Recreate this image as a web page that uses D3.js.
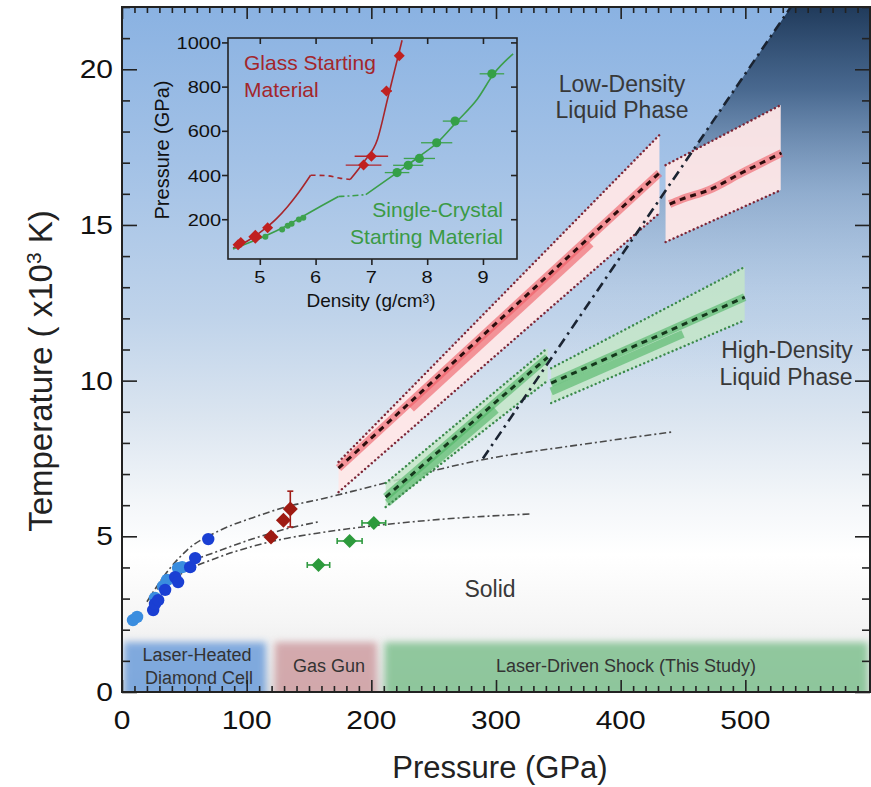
<!DOCTYPE html>
<html lang="en">
  <head>
    <meta charset="utf-8">
    <title>SiO2 shock melting</title>
    <style>
      body { margin: 0; background: #fff; }
      text { font-family: "Liberation Sans", Arial, Helvetica, sans-serif; }
    </style>
  </head>
  <body>
    <svg width="871" height="787"></svg>
    <script src="https://cdn.jsdelivr.net/npm/d3@7"></script>
    <script>
      // ---- data (pressure in GPa, temperature in 10^3 K) ----
      const pressureTicks = [0, 100, 200, 300, 400, 500];
      const tempTicks = [0, 5, 10, 15, 20];

      // laser-heated diamond cell
      const dacDark = [[25, 2.63], [26.5, 2.83], [29, 2.95], [34.6, 3.28], [42.6, 3.69], [45, 3.53], [54.7, 4.01], [58.7, 4.30], [69.2, 4.91]];
      const dacLight = [[8.8, 2.31], [12.1, 2.41], [26.5, 3.02], [33, 3.40], [36.2, 3.60], [45, 3.98], [48.3, 4.01]];
      // gas gun [P, T, Terr low, Terr high]
      const gasGun = [[119.5, 4.98, 0, 0], [129.5, 5.52, 0, 0], [135, 5.88, 5.3, 6.45]];
      // shocked solid points [P, T, P err]
      const shockSolid = [[157.6, 4.08, 9], [182.6, 4.85, 10], [202, 5.43, 9.5]];

      // melting curves (dash-dot)
      const meltUpper = [[20, 2.9], [39, 4.0], [52, 4.55], [79, 5.2], [105, 5.6], [132, 5.95], [160, 6.2], [200, 6.6], [288, 7.45], [376, 7.99], [441, 8.35]];
      const meltMiddle = [[28, 3.3], [40, 3.75], [52, 4.1], [79, 4.55], [105, 4.92], [130, 5.22], [157, 5.46]];
      const meltLower = [[40, 3.6], [52, 3.9], [79, 4.35], [105, 4.68], [130, 4.92], [160, 5.12], [248, 5.52], [328, 5.72]];
      const phaseBoundary = [[289.5, 7.5], [536.5, 22]];

      // liquid bands [P, T low edge, T high edge]
      const ldlBandA = [[173.7, 6.42, 7.39], [431.1, 15.38, 17.89]];
      const ldlBandB = [[436, 14.45, 16.92], [528.4, 16.12, 18.85]];
      const hdlBandA = [[211.5, 5.94, 6.71], [341.4, 10.0, 11.05]];
      const hdlBandB = [[344.2, 9.28, 10.40], [499.5, 11.94, 13.65]];
      // fits through the bands
      const ldlFitA = [[173.7, 7.19], [431.1, 16.67]];
      const ldlFitA2 = [[232, 9.1], [376, 14.4]];
      const ldlFitB = [[439.3, 15.67], [449, 15.83], [470.6, 16.12], [497, 16.67], [529, 17.31]];
      const hdlFitA = [[211.5, 6.26], [341.4, 10.75]];
      const hdlFitA2 = [[213, 6.08], [300, 9.07]];
      const hdlFitB = [[344.2, 9.92], [499.5, 12.68]];
      const hdlFitB2 = [[344.2, 9.65], [450, 11.5]];

      // technique ranges [P start, P end]
      const methods = [
        { name: ['Laser-Heated', 'Diamond Cell'], range: [0, 117], colour: '#6d9edb' },
        { name: ['Gas Gun'], range: [121, 206], colour: '#cf9ea2' },
        { name: ['Laser-Driven Shock (This Study)'], range: [209, 600], colour: '#80c190' }
      ];

      // inset: density (g/cm3) vs pressure (GPa)
      const densityTicks = [5, 6, 7, 8, 9];
      const insetPTicks = [200, 400, 600, 800, 1000];
      const glassCurve1 = [[4.52, 70], [4.8, 105], [5.07, 153], [5.3, 203], [5.5, 258], [5.7, 322], [5.91, 399]];
      const glassCurveGap = [[5.91, 399], [6.2, 397], [6.45, 385], [6.62, 380]];
      const glassCurve2 = [[6.62, 380], [6.86, 458], [7.11, 562], [7.29, 744], [7.55, 1010]];
      const crystalCurve1 = [[4.52, 65], [5.07, 121], [5.4, 160], [5.73, 207], [6.1, 260], [6.41, 303]];
      const crystalCurveGap = [[6.41, 303], [6.65, 306], [6.9, 311]];
      const crystalCurve2 = [[6.9, 311], [7.46, 411], [7.87, 486], [8.18, 546], [8.54, 644], [8.9, 744], [9.2, 860], [9.54, 948]];
      // [density, pressure, density err]
      const glassPoints = [[4.61, 85, 0], [4.66, 95, 0], [4.92, 121, 0.1], [5.14, 161, 0], [6.86, 445, 0.32], [7.0, 485, 0.3], [7.27, 780, 0.1], [7.5, 940, 0.05]];
      const crystalSmall = [[5.1, 121], [5.4, 153], [5.5, 170], [5.57, 180], [5.7, 199], [5.78, 207]];
      const crystalPoints = [[7.46, 411, 0.22], [7.66, 444, 0.27], [7.86, 475, 0.28], [8.17, 546, 0.28], [8.5, 644, 0.22], [9.16, 858, 0.22]];

      // ---- scales ----
      const x = d3.scaleLinear().domain([0, 600]).range([122, 870]);
      const y = d3.scaleLinear().domain([0, 22]).range([692, 7]);
      const xi = d3.scaleLinear().domain([4.43, 9.61]).range([228, 517]);
      const yi = d3.scaleLinear().domain([20, 1020]).range([259, 38]);

      const svg = d3.select('svg');
      const defs = svg.append('defs');

      const bg = defs.append('linearGradient').attr('id', 'bg')
        .attr('x1', 0).attr('y1', 0).attr('x2', 0).attr('y2', 1);
      [[0, '#8ab2e2'], [0.22, '#a2c1e6'], [0.45, '#bfd3ea'], [0.6, '#dbe5f0'],
       [0.72, '#f3f6f9'], [0.8, '#ffffff'], [0.9, '#f5f5f5'], [1, '#e3e3e3']]
        .forEach(s => bg.append('stop').attr('offset', s[0]).attr('stop-color', s[1]));

      const dark = defs.append('linearGradient').attr('id', 'dark')
        .attr('gradientUnits', 'userSpaceOnUse')
        .attr('x1', 0).attr('y1', y(22)).attr('x2', 0).attr('y2', y(10));
      [[0, '#1d3757', 0.97], [0.22, '#35547a', 0.8], [0.5, '#6d89aa', 0.4], [0.78, '#9cb2cb', 0.12], [1, '#a8bdd4', 0]]
        .forEach(s => dark.append('stop').attr('offset', s[0]).attr('stop-color', s[1]).attr('stop-opacity', s[2]));

      defs.append('filter').attr('id', 'blur')
        .attr('x', '-10%').attr('y', '-40%').attr('width', '120%').attr('height', '180%')
        .append('feGaussianBlur').attr('stdDeviation', 3.5);

      defs.append('clipPath').attr('id', 'plotClip').append('rect')
        .attr('x', x(0)).attr('y', y(22)).attr('width', x(600) - x(0)).attr('height', y(0) - y(22));
      defs.append('clipPath').attr('id', 'insetClip').append('rect')
        .attr('x', xi(4.43)).attr('y', yi(1020)).attr('width', xi(9.61) - xi(4.43)).attr('height', yi(20) - yi(1020));

      const plot = svg.append('g').attr('clip-path', 'url(#plotClip)');

      plot.append('rect')
        .attr('x', x(0)).attr('y', y(22)).attr('width', x(600) - x(0)).attr('height', y(0) - y(22))
        .attr('fill', 'url(#bg)');

      // region above the phase boundary
      const darkPoly = [phaseBoundary[0], phaseBoundary[1], [600, 22], [600, phaseBoundary[0][1]]];
      plot.append('path')
        .attr('d', d3.line().x(d => x(d[0])).y(d => y(d[1]))(darkPoly) + 'Z')
        .attr('fill', 'url(#dark)');

      // technique bands
      plot.selectAll('rect.method')
        .data(methods).enter()
        .append('rect').attr('class', 'method')
        .attr('x', d => x(d.range[0]) + 2)
        .attr('y', y(1.6))
        .attr('width', d => x(d.range[1]) - x(d.range[0]) - 4)
        .attr('height', y(0) - y(1.6) + 6)
        .attr('fill', d => d.colour)
        .attr('opacity', 0.85)
        .attr('filter', 'url(#blur)');

      const line = d3.line().x(d => x(d[0])).y(d => y(d[1]));
      const curve = d3.line().x(d => x(d[0])).y(d => y(d[1])).curve(d3.curveMonotoneX);

      // melting curves
      [meltUpper, meltMiddle, meltLower].forEach(c => {
        plot.append('path').attr('d', curve(c))
          .attr('fill', 'none').attr('stroke', '#4a4a4a').attr('stroke-width', 1.6)
          .attr('stroke-dasharray', '7,3,2,3');
      });

      // liquid bands
      const bandArea = d3.area().x(d => x(d[0])).y0(d => y(d[1])).y1(d => y(d[2]));
      const bands = [
        { b: ldlBandA, fill: '#fee7e7', op: 0.95, edge: '#7d2636', fits: [ldlFitA2, ldlFitA], thick: '#ef5a62', dash: '#2d0d0d' },
        { b: ldlBandB, fill: '#fee7e7', op: 0.95, edge: '#7d2636', fits: [ldlFitB], thick: '#ef5a62', dash: '#2d0d0d' },
        { b: hdlBandA, fill: '#c4e6c8', op: 0.85, edge: '#3b8a4b', fits: [hdlFitA2, hdlFitA], thick: '#4cb462', dash: '#15391c' },
        { b: hdlBandB, fill: '#c4e6c8', op: 0.85, edge: '#3b8a4b', fits: [hdlFitB2, hdlFitB], thick: '#4cb462', dash: '#15391c' }
      ];
      bands.forEach(d => {
        plot.append('path').attr('d', bandArea(d.b))
          .attr('fill', d.fill).attr('opacity', d.op);
      });
      bands.forEach(d => {
        d.fits.forEach(f => {
          plot.append('path').attr('d', curve(f))
            .attr('fill', 'none').attr('stroke', d.thick).attr('stroke-width', 8)
            .attr('stroke-opacity', 0.6).attr('stroke-linecap', 'butt');
        });
        const main = d.fits[d.fits.length - 1];
        plot.append('path').attr('d', curve(main))
          .attr('fill', 'none').attr('stroke', d.dash).attr('stroke-width', 3)
          .attr('stroke-dasharray', '6,5');
        [1, 2].forEach(i => {
          plot.append('path')
            .attr('d', line(d.b.map(r => [r[0], r[i]])))
            .attr('fill', 'none').attr('stroke', d.edge).attr('stroke-width', 2.4)
            .attr('stroke-linecap', 'round').attr('stroke-dasharray', '0.1,4.3');
        });
      });

      // phase boundary
      plot.append('path').attr('d', line(phaseBoundary))
        .attr('fill', 'none').attr('stroke', '#1b2432').attr('stroke-width', 2.6)
        .attr('stroke-dasharray', '10,5,2.5,5');

      // data points
      const diamond = (cx, cy, r) => `M${cx},${cy - r}L${cx + r},${cy}L${cx},${cy + r}L${cx - r},${cy}Z`;

      plot.selectAll('circle.dacL').data(dacLight).enter()
        .append('circle').attr('class', 'dacL')
        .attr('cx', d => x(d[0])).attr('cy', d => y(d[1])).attr('r', 6.2)
        .attr('fill', '#3a8ddf');
      plot.selectAll('circle.dacD').data(dacDark).enter()
        .append('circle').attr('class', 'dacD')
        .attr('cx', d => x(d[0])).attr('cy', d => y(d[1])).attr('r', 6.2)
        .attr('fill', '#1a3fd3');

      gasGun.filter(d => d[2]).forEach(d => {
        const g = plot.append('g').attr('stroke', '#a01c16').attr('stroke-width', 1.6);
        g.append('line').attr('x1', x(d[0])).attr('x2', x(d[0])).attr('y1', y(d[2])).attr('y2', y(d[3]));
        [d[2], d[3]].forEach(v => g.append('line')
          .attr('x1', x(d[0]) - 3).attr('x2', x(d[0]) + 3).attr('y1', y(v)).attr('y2', y(v)));
      });
      plot.selectAll('path.gg').data(gasGun).enter()
        .append('path').attr('class', 'gg')
        .attr('d', d => diamond(x(d[0]), y(d[1]), 7.5))
        .attr('fill', '#9e1a12');

      shockSolid.forEach(d => {
        const g = plot.append('g').attr('stroke', '#2f9a40').attr('stroke-width', 1.6);
        g.append('line').attr('x1', x(d[0] - d[2])).attr('x2', x(d[0] + d[2])).attr('y1', y(d[1])).attr('y2', y(d[1]));
        [d[0] - d[2], d[0] + d[2]].forEach(v => g.append('line')
          .attr('x1', x(v)).attr('x2', x(v)).attr('y1', y(d[1]) - 3).attr('y2', y(d[1]) + 3));
      });
      plot.selectAll('path.ss').data(shockSolid).enter()
        .append('path').attr('class', 'ss')
        .attr('d', d => diamond(x(d[0]), y(d[1]), 7))
        .attr('fill', '#2c9a3c');

      // ---- text helper ----
      function txt(g, s, px, py, size, anchor, fill, sy) {
        return g.append('text')
          .attr('transform', `translate(${px},${py}) scale(1,${sy || 1})`)
          .attr('text-anchor', anchor).attr('font-size', size).attr('fill', fill).text(s);
      }

      // technique labels
      txt(svg, 'Laser-Heated', 197, 661, 18, 'middle', '#333');
      txt(svg, 'Diamond Cell', 199, 684, 18, 'middle', '#333');
      txt(svg, 'Gas Gun', 329, 672, 18, 'middle', '#333');
      txt(svg, 'Laser-Driven Shock (This Study)', 626, 672, 18, 'middle', '#333');

      // region labels
      txt(svg, 'Low-Density', 622, 92, 23, 'middle', '#383838');
      txt(svg, 'Liquid Phase', 622, 118, 23, 'middle', '#383838');
      txt(svg, 'High-Density', 787, 358, 23, 'middle', '#383838');
      txt(svg, 'Liquid Phase', 786, 385, 23, 'middle', '#383838');
      txt(svg, 'Solid', 490, 597, 23, 'middle', '#383838');

      // ---- main axes ----
      const tickStyle = g => {
        g.select('.domain').remove();
        g.selectAll('line').attr('stroke', '#222').attr('stroke-width', 1.6);
      };
      const minorP = d3.range(0, 601, 10).filter(v => v % 100 !== 0);
      const minorT = d3.range(0, 23, 1).filter(v => v % 5 !== 0);

      svg.append('g').attr('transform', `translate(0,${y(0)})`)
        .call(d3.axisBottom(x).tickValues(minorP).tickSize(-6).tickFormat('')).call(tickStyle);
      svg.append('g').attr('transform', `translate(0,${y(0)})`)
        .call(d3.axisBottom(x).tickValues(pressureTicks).tickSize(-12).tickFormat('')).call(tickStyle);
      svg.append('g').attr('transform', `translate(0,${y(22)})`)
        .call(d3.axisTop(x).tickValues(minorP).tickSize(-6).tickFormat('')).call(tickStyle);
      svg.append('g').attr('transform', `translate(0,${y(22)})`)
        .call(d3.axisTop(x).tickValues(pressureTicks).tickSize(-12).tickFormat('')).call(tickStyle);
      svg.append('g').attr('transform', `translate(${x(0)},0)`)
        .call(d3.axisLeft(y).tickValues(minorT).tickSize(-8).tickFormat('')).call(tickStyle);
      svg.append('g').attr('transform', `translate(${x(0)},0)`)
        .call(d3.axisLeft(y).tickValues(tempTicks).tickSize(-15).tickFormat('')).call(tickStyle);
      svg.append('g').attr('transform', `translate(${x(600)},0)`)
        .call(d3.axisRight(y).tickValues(minorT).tickSize(-8).tickFormat('')).call(tickStyle);
      svg.append('g').attr('transform', `translate(${x(600)},0)`)
        .call(d3.axisRight(y).tickValues(tempTicks).tickSize(-15).tickFormat('')).call(tickStyle);

      svg.append('rect')
        .attr('x', x(0)).attr('y', y(22)).attr('width', x(600) - x(0)).attr('height', y(0) - y(22))
        .attr('fill', 'none').attr('stroke', '#222').attr('stroke-width', 2);

      pressureTicks.forEach(v => txt(svg, v, x(v), 729, 30, 'middle', '#111', 0.86));
      tempTicks.forEach(v => txt(svg, v, 113, y(v) + 9, 30, 'end', '#111', 0.86));

      txt(svg, 'Pressure (GPa)', 500, 778, 31, 'middle', '#222');
      const yTitle = svg.append('text')
        .attr('transform', 'translate(52,371) rotate(-90)')
        .attr('text-anchor', 'middle').attr('font-size', 33).attr('fill', '#222')
        .text('Temperature ( x10');
      yTitle.append('tspan').attr('baseline-shift', 'super').attr('font-size', 21).text('3');
      yTitle.append('tspan').text(' K)');

      // ---- inset ----
      const inset = svg.append('g');
      const insetPlot = inset.append('g').attr('clip-path', 'url(#insetClip)');
      const iline = d3.line().x(d => xi(d[0])).y(d => yi(d[1])).curve(d3.curveMonotoneX);

      [[glassCurve1, '#a8262b', null], [glassCurveGap, '#a8262b', '5,4'], [glassCurve2, '#a8262b', null],
       [crystalCurve1, '#3b9e4a', null], [crystalCurveGap, '#3b9e4a', '6,3,2,3'], [crystalCurve2, '#3b9e4a', null]]
        .forEach(c => {
          insetPlot.append('path').attr('d', iline(c[0]))
            .attr('fill', 'none').attr('stroke', c[1]).attr('stroke-width', 1.6)
            .attr('stroke-dasharray', c[2]);
        });

      glassPoints.filter(d => d[2]).forEach(d => {
        insetPlot.append('line')
          .attr('x1', xi(d[0] - d[2])).attr('x2', xi(d[0] + d[2])).attr('y1', yi(d[1])).attr('y2', yi(d[1]))
          .attr('stroke', '#b0262c').attr('stroke-width', 1.3);
      });
      crystalPoints.forEach(d => {
        insetPlot.append('line')
          .attr('x1', xi(d[0] - d[2])).attr('x2', xi(d[0] + d[2])).attr('y1', yi(d[1])).attr('y2', yi(d[1]))
          .attr('stroke', '#3ea24e').attr('stroke-width', 1.3);
      });
      insetPlot.selectAll('circle.cs').data(crystalSmall).enter()
        .append('circle').attr('class', 'cs')
        .attr('cx', d => xi(d[0])).attr('cy', d => yi(d[1])).attr('r', 3)
        .attr('fill', '#3ea24e');
      insetPlot.selectAll('circle.cp').data(crystalPoints).enter()
        .append('circle').attr('class', 'cp')
        .attr('cx', d => xi(d[0])).attr('cy', d => yi(d[1])).attr('r', 4.6)
        .attr('fill', '#35a047');
      insetPlot.selectAll('path.gp').data(glassPoints).enter()
        .append('path').attr('class', 'gp')
        .attr('d', (d, i) => diamond(xi(d[0]), yi(d[1]), i === 2 ? 7 : 5.5))
        .attr('fill', '#c0201f');

      inset.append('g').attr('transform', `translate(0,${yi(20)})`)
        .call(d3.axisBottom(xi).tickValues(densityTicks).tickSize(6).tickFormat('')).call(tickStyle);
      inset.append('g').attr('transform', `translate(0,${yi(1020)})`)
        .call(d3.axisTop(xi).tickValues(densityTicks).tickSize(-6).tickFormat('')).call(tickStyle);
      inset.append('g').attr('transform', `translate(${xi(4.43)},0)`)
        .call(d3.axisLeft(yi).tickValues(insetPTicks).tickSize(6).tickFormat('')).call(tickStyle);
      inset.append('g').attr('transform', `translate(${xi(9.61)},0)`)
        .call(d3.axisRight(yi).tickValues(insetPTicks).tickSize(-6).tickFormat('')).call(tickStyle);
      inset.append('rect')
        .attr('x', xi(4.43)).attr('y', yi(1020)).attr('width', xi(9.61) - xi(4.43)).attr('height', yi(20) - yi(1020))
        .attr('fill', 'none').attr('stroke', '#222').attr('stroke-width', 1.6);

      densityTicks.forEach(v => txt(inset, v, xi(v), 283, 20, 'middle', '#111', 0.85));
      insetPTicks.forEach(v => txt(inset, v, 221, yi(v) + 6.5, 20, 'end', '#111', 0.85));

      const dTitle = inset.append('text')
        .attr('transform', 'translate(371,307)')
        .attr('text-anchor', 'middle').attr('font-size', 19).attr('fill', '#111')
        .text('Density (g/cm');
      dTitle.append('tspan').attr('baseline-shift', '35%').attr('font-size', 12).text('3');
      dTitle.append('tspan').text(')');
      inset.append('text')
        .attr('transform', 'translate(169,150) rotate(-90)')
        .attr('text-anchor', 'middle').attr('font-size', 20).attr('fill', '#111')
        .text('Pressure (GPa)');

      txt(inset, 'Glass Starting', 244, 70, 21, 'start', '#a3262b');
      txt(inset, 'Material', 244, 97, 21, 'start', '#a3262b');
      txt(inset, 'Single-Crystal', 503, 217, 21, 'end', '#3a9a45');
      txt(inset, 'Starting Material', 503, 244, 21, 'end', '#3a9a45');
    </script>
  </body>
</html>
